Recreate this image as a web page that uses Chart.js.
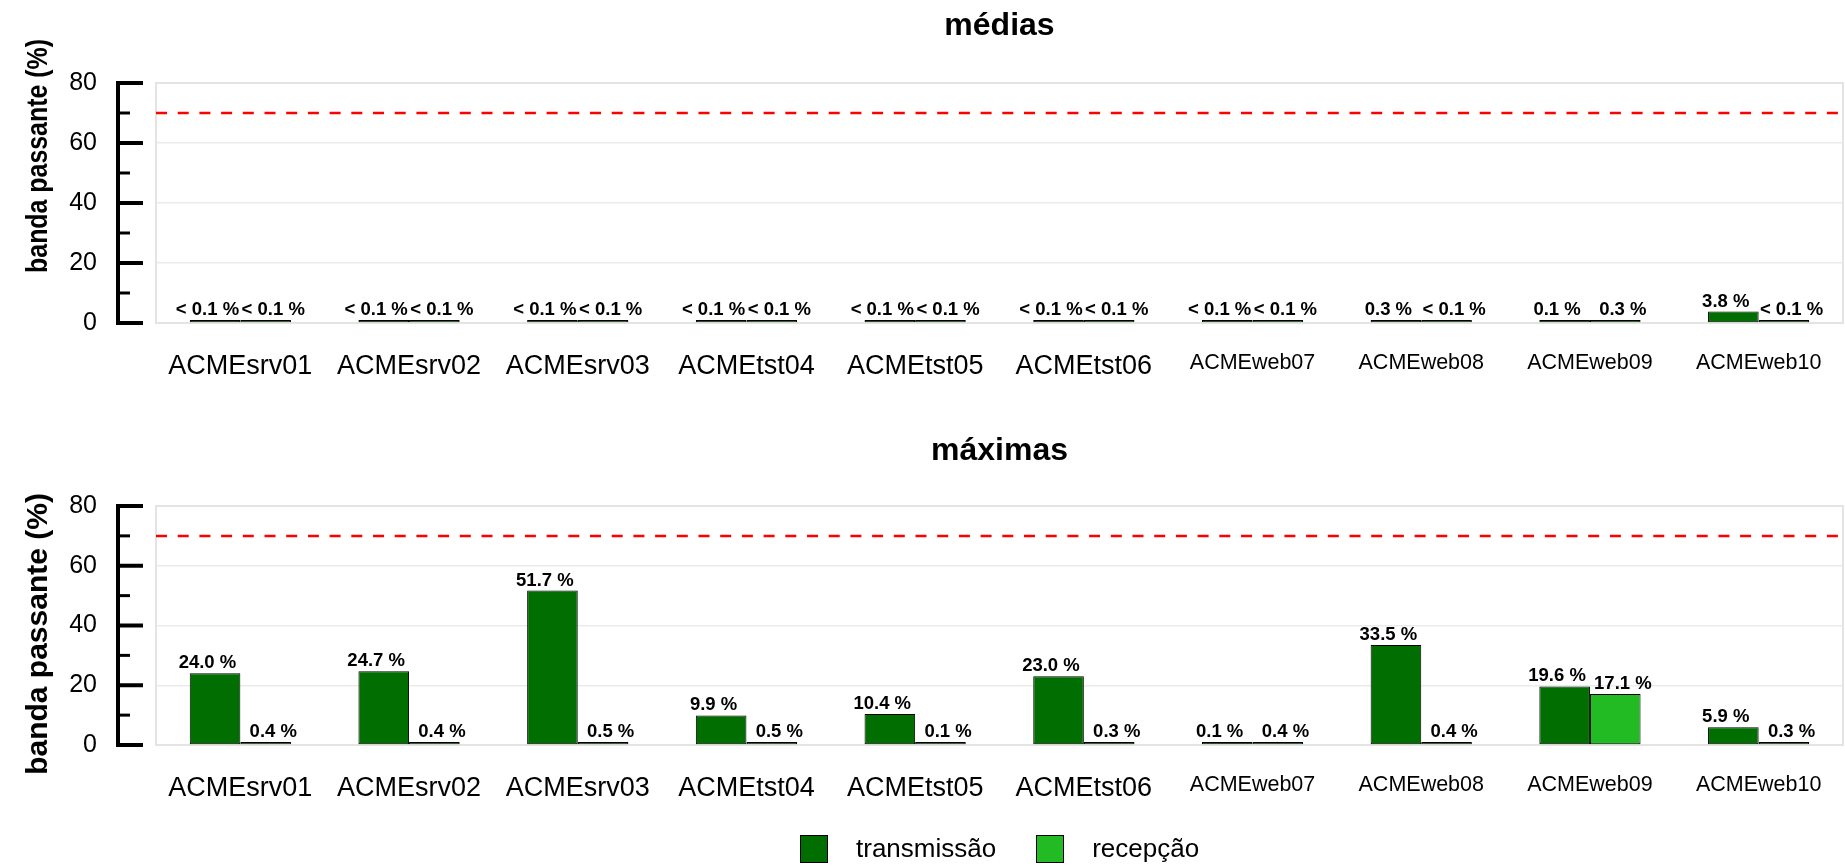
<!DOCTYPE html>
<html>
<head>
<meta charset="utf-8">
<script src="https://cdn.jsdelivr.net/npm/chart.js@4.4.0/dist/chart.umd.min.js"></script>
<style>
  body { margin: 0; background: #fff; font-family: "Liberation Sans", Arial, sans-serif; }
  .wrap { position: relative; width: 1845px; height: 867px; }
  #boxTop { position: absolute; left: 0; top: 0; width: 1845px; height: 424px; }
  #boxBottom { position: absolute; left: 0; top: 424px; width: 1845px; height: 443px; }
  #legend { position: absolute; left: 800px; top: 833px; display: flex; align-items: center; font-size: 26px; color: #000; }
  #legend .sw { width: 26px; height: 26px; border: 1px solid #000; margin-right: 28px; }
  #legend .txt { margin-right: 40px; }
</style>
</head>
<body>
<div class="wrap">
  <div id="boxTop"><canvas id="medias"></canvas></div>
  <div id="boxBottom"><canvas id="maximas"></canvas></div>
  <div id="legend"></div>
</div>
<script>
// servidores e valores (% da banda)
const servers = ['ACMEsrv01', 'ACMEsrv02', 'ACMEsrv03', 'ACMEtst04', 'ACMEtst05',
                 'ACMEtst06', 'ACMEweb07', 'ACMEweb08', 'ACMEweb09', 'ACMEweb10'];
const seriesNames = ['transmissão', 'recepção'];
// 0.05 = "< 0.1 %"
const avgTx = [0.05, 0.05, 0.05, 0.05, 0.05, 0.05, 0.05, 0.3, 0.1, 3.8];
const avgRx = [0.05, 0.05, 0.05, 0.05, 0.05, 0.05, 0.05, 0.05, 0.3, 0.05];
const maxTx = [24.0, 24.7, 51.7, 9.9, 10.4, 23.0, 0.1, 33.5, 19.6, 5.9];
const maxRx = [0.4, 0.4, 0.5, 0.5, 0.1, 0.3, 0.4, 0.4, 17.1, 0.3];
const yTicks = [0, 20, 40, 60, 80];
const limit = 70;

const colors = ['#006e00', '#23bb23'];

Chart.defaults.font.family = "'Liberation Sans', Arial, sans-serif";
Chart.defaults.color = '#000';

const fmt = v => v < 0.1 ? '< 0.1 %' : v.toFixed(1) + ' %';

// eixo y "solto", moldura, linha limite, rotulos das barras e titulo do eixo
const decor = {
  id: 'decor',
  beforeDatasetsDraw(chart, args, opts) {
    const { ctx, chartArea: a, scales: { y } } = chart;
    ctx.save();
    ctx.strokeStyle = '#e4e4e4';
    ctx.lineWidth = 2;
    ctx.strokeRect(a.left, a.top, a.right - a.left, a.bottom - a.top);

    const ax = a.left - 38;
    ctx.strokeStyle = '#000';
    ctx.lineWidth = 4;
    ctx.beginPath();
    ctx.moveTo(ax, y.getPixelForValue(y.max) - 2);
    ctx.lineTo(ax, y.getPixelForValue(y.min) + 2);
    ctx.stroke();
    const step = yTicks[1] - yTicks[0];
    for (let v = y.min; v <= y.max; v += step / 2) {
      const py = y.getPixelForValue(v);
      const major = v % step === 0;
      ctx.lineWidth = major ? 4 : 3;
      ctx.beginPath();
      ctx.moveTo(ax - 2, py);
      ctx.lineTo(ax + (major ? 25 : 12), py);
      ctx.stroke();
    }

    const ly = y.getPixelForValue(limit);
    ctx.strokeStyle = '#ff0000';
    ctx.lineWidth = 2.5;
    ctx.setLineDash([11, 10.7]);
    ctx.beginPath();
    ctx.moveTo(a.left, ly);
    ctx.lineTo(a.right, ly);
    ctx.stroke();
    ctx.restore();
  },
  afterDatasetsDraw(chart, args, opts) {
    const { ctx, chartArea: a } = chart;
    ctx.save();
    ctx.fillStyle = '#000';
    ctx.font = "bold 18.5px 'Liberation Sans', Arial, sans-serif";
    ctx.textAlign = 'center';
    ctx.textBaseline = 'alphabetic';
    chart.data.datasets.forEach((ds, i) => {
      const side = i === 0 ? -1 : 1;
      chart.getDatasetMeta(i).data.forEach((bar, j) => {
        ctx.fillText(fmt(ds.data[j]), bar.x + side * bar.width * 0.15, bar.y - 5);
      });
    });

    ctx.font = opts.font;
    ctx.textAlign = 'center';
    ctx.textBaseline = 'middle';
    ctx.translate(39, (a.top + a.bottom) / 2 + opts.shift);
    ctx.rotate(-Math.PI / 2);
    ctx.scale(opts.squeeze, 1);
    ctx.fillText(opts.text, 0, 0);
    ctx.restore();
  }
};

function build(id, title, tx, rx, titlePad, xHeight, yTitle) {
  return new Chart(document.getElementById(id), {
    type: 'bar',
    data: {
      labels: servers,
      datasets: [
        { label: seriesNames[0], data: tx, backgroundColor: colors[0] },
        { label: seriesNames[1], data: rx, backgroundColor: colors[1] }
      ]
    },
    options: {
      responsive: true,
      maintainAspectRatio: false,
      animation: false,
      layout: { padding: { right: 2 } },
      datasets: {
        bar: {
          borderColor: '#000', borderWidth: 1, borderSkipped: false,
          minBarLength: 3, categoryPercentage: 0.6, barPercentage: 1
        }
      },
      plugins: {
        legend: { display: false },
        tooltip: { enabled: false },
        title: {
          display: true, text: title, fullSize: false, color: '#000',
          font: { size: 32, weight: 'bold' }, padding: titlePad
        },
        decor: yTitle
      },
      scales: {
        x: {
          grid: { display: false },
          border: { display: false },
          ticks: {
            autoSkip: false, maxRotation: 0, padding: 19,
            font: c => ({ size: servers[c.index].includes('web') ? 21.5 : 27 })
          },
          afterFit: s => { s.height = xHeight; }
        },
        y: {
          min: yTicks[0], max: yTicks[yTicks.length - 1],
          grid: { color: '#ebebeb', lineWidth: 1.5, drawTicks: false },
          border: { display: false },
          ticks: { padding: 59, font: { size: 25 } },
          afterBuildTicks: s => { s.ticks = yTicks.map(v => ({ value: v })); },
          afterFit: s => { s.width = 156; }
        }
      }
    },
    plugins: [decor]
  });
}

build('medias', 'médias', avgTx, avgRx, { top: 6.8, bottom: 37.8 }, 101,
  { text: 'banda passante (%)', shift: -47, squeeze: 0.83,
    font: "bold 30px 'Liberation Sans', Arial, sans-serif" });
build('maximas', 'máximas', maxTx, maxRx, { top: 8.2, bottom: 35.4 }, 122,
  { text: 'banda passante (%)', shift: 8.5, squeeze: 1,
    font: "bold 30px 'Liberation Sans', Arial, sans-serif" });

// legenda
const legend = document.getElementById('legend');
seriesNames.forEach((name, i) => {
  const sw = document.createElement('div');
  sw.className = 'sw';
  sw.style.background = colors[i];
  const txt = document.createElement('div');
  txt.className = 'txt';
  txt.textContent = name;
  legend.appendChild(sw);
  legend.appendChild(txt);
});
</script>
</body>
</html>
